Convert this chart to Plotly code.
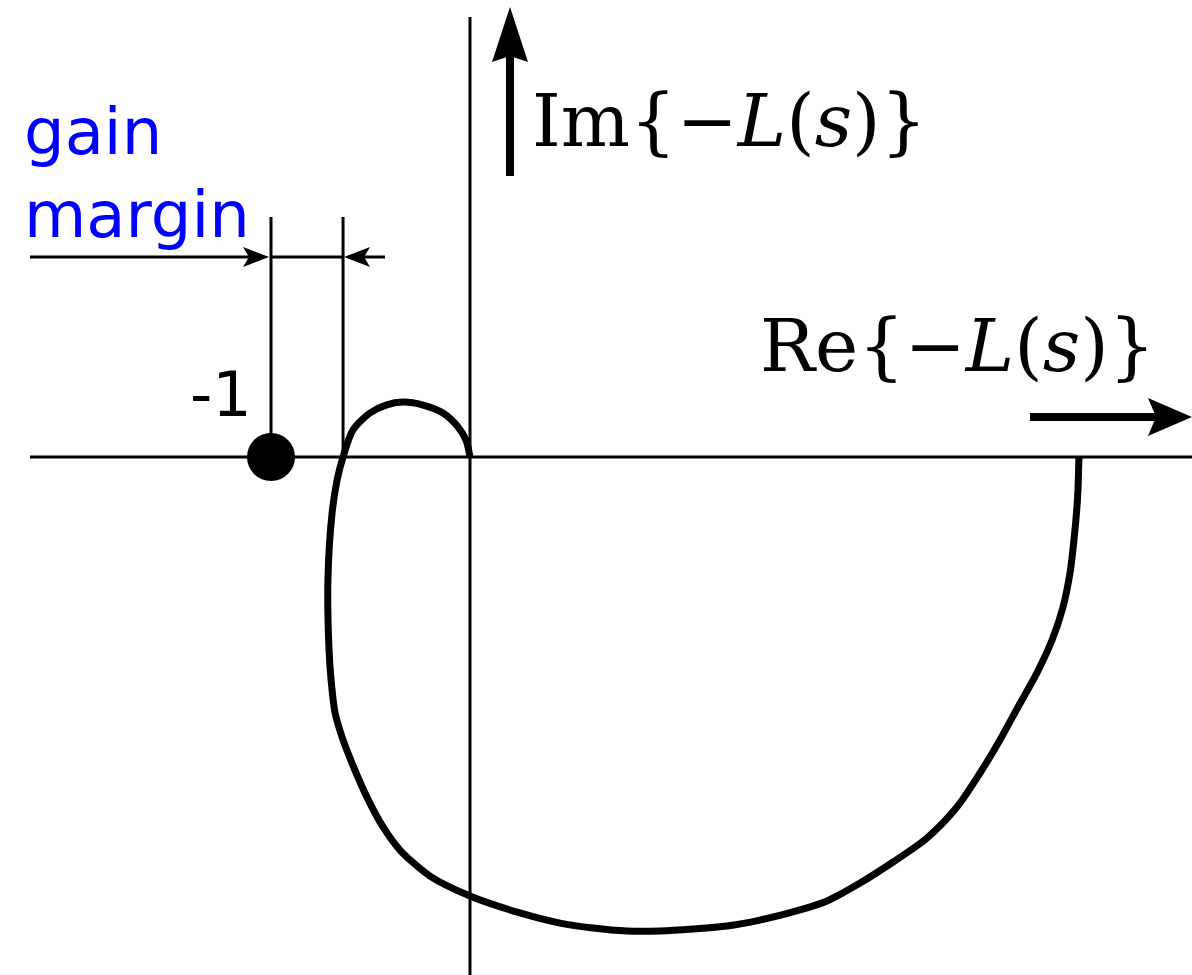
import plotly.graph_objects as go

# Nyquist locus of -L(jw), in units of the real/imaginary axes
re_vals = [3.060, 3.055, 3.050, 3.035, 3.015, 2.980, 2.925, 2.849, 2.754, 2.663,
           2.563, 2.447, 2.296, 2.126, 1.960, 1.794, 1.623, 1.457, 1.291, 1.121,
           0.955, 0.789, 0.618, 0.452, 0.251, 0.000, -0.201, -0.352, -0.437, -0.518,
           -0.593, -0.638, -0.678, -0.698, -0.709, -0.714, -0.693, -0.668, -0.638,
           -0.588, -0.503, -0.422, -0.337, -0.236, -0.136, -0.060, -0.020, 0.000]
im_vals = [0.000, -0.166, -0.251, -0.417, -0.583, -0.754, -0.920, -1.085, -1.256,
           -1.422, -1.588, -1.759, -1.915, -2.035, -2.141, -2.231, -2.286, -2.327,
           -2.357, -2.372, -2.382, -2.382, -2.367, -2.342, -2.291, -2.206, -2.106,
           -1.975, -1.859, -1.709, -1.538, -1.422, -1.286, -1.121, -0.955, -0.618,
           -0.281, -0.116, 0.000, 0.136, 0.221, 0.261, 0.276, 0.261, 0.221, 0.151,
           0.085, 0.000]

critical_point = -1.0
phase_crossover = -0.638

# canvas geometry: pixels per unit and the pixel position of the origin
W, H = 1192, 975
UNIT = 199.0
OX, OY = 470.0, 457.0


def X(p):
    return (p - OX) / UNIT


def Y(p):
    return (OY - p) / UNIT


def head(tip, direction, length, half, notch):
    """Filled arrowhead path (stealth style) in data coordinates."""
    tx, ty = tip
    dx, dy = direction
    nx, ny = -dy, dx
    bx, by = tx - dx * length, ty - dy * length
    pts = [(tx, ty),
           (bx + nx * half, by + ny * half),
           (tx - dx * (length - notch), ty - dy * (length - notch)),
           (bx - nx * half, by - ny * half)]
    d = "M " + " L ".join(f"{X(px)},{Y(py)}" for px, py in pts) + " Z"
    return dict(type="path", path=d, fillcolor="black", line=dict(width=0),
                xref="x", yref="y", layer="above")


def seg(x0, y0, x1, y1, w):
    return dict(type="line", x0=X(x0), y0=Y(y0), x1=X(x1), y1=Y(y1),
                xref="x", yref="y", line=dict(color="black", width=w))


fig = go.Figure()

fig.add_trace(go.Scatter(
    x=re_vals, y=im_vals, mode="lines",
    line=dict(color="black", width=7, shape="spline", smoothing=0.8,
              simplify=False),
    hoverinfo="skip", showlegend=False))

fig.add_trace(go.Scatter(
    x=[critical_point], y=[0], mode="markers",
    marker=dict(color="black", size=48), hoverinfo="skip", showlegend=False))

cx = critical_point * UNIT + OX
gx = phase_crossover * UNIT + OX

shapes = [
    # real and imaginary axes
    seg(30, OY, W, OY, 3),
    seg(OX, 17, OX, H, 3),
    # gain margin extension lines
    seg(cx, 217, cx, OY, 3),
    seg(gx, 217, gx, OY, 3),
    # dimension arrows
    seg(30, 257, cx - 10, 257, 3),
    seg(gx + 5, 257, 385, 257, 3),
    seg(cx, 257, gx, 257, 3),
    head((cx - 2, 257), (1, 0), 26, 10, 6),
    head((gx + 1, 257), (-1, 0), 26, 10, 6),
    # Im arrow
    seg(510, 176, 510, 50, 8),
    head((510, 7), (0, -1), 55, 18, 6),
    # Re arrow
    seg(1030, 417, 1160, 417, 8),
    head((1192, 417), (1, 0), 44, 19, 8),
]

annotations = [
    dict(x=X(22), y=Y(93), xanchor="left", yanchor="top", align="left",
         text="gain<br>margin", showarrow=False,
         font=dict(family="DejaVu Sans", size=64, color="#0000ff")),
    dict(x=X(254), y=Y(394), xanchor="right", yanchor="middle",
         text="-1", showarrow=False,
         font=dict(family="DejaVu Sans", size=62, color="black")),
    dict(x=X(530), y=Y(120), xanchor="left", yanchor="middle",
         text="Im{−<i>L</i>(<i>s</i>)}", showarrow=False,
         font=dict(family="DejaVu Serif", size=73, color="black")),
    dict(x=X(758), y=Y(345), xanchor="left", yanchor="middle",
         text="Re{−<i>L</i>(<i>s</i>)}", showarrow=False,
         font=dict(family="DejaVu Serif", size=73, color="black")),
]

fig.update_layout(
    width=W, height=H, margin=dict(l=0, r=0, t=0, b=0),
    paper_bgcolor="white", plot_bgcolor="white",
    xaxis=dict(range=[X(0), X(W)], visible=False, fixedrange=True),
    yaxis=dict(range=[Y(H), Y(0)], visible=False, fixedrange=True),
    shapes=shapes, annotations=annotations, showlegend=False,
)

fig.write_html("out.html")
